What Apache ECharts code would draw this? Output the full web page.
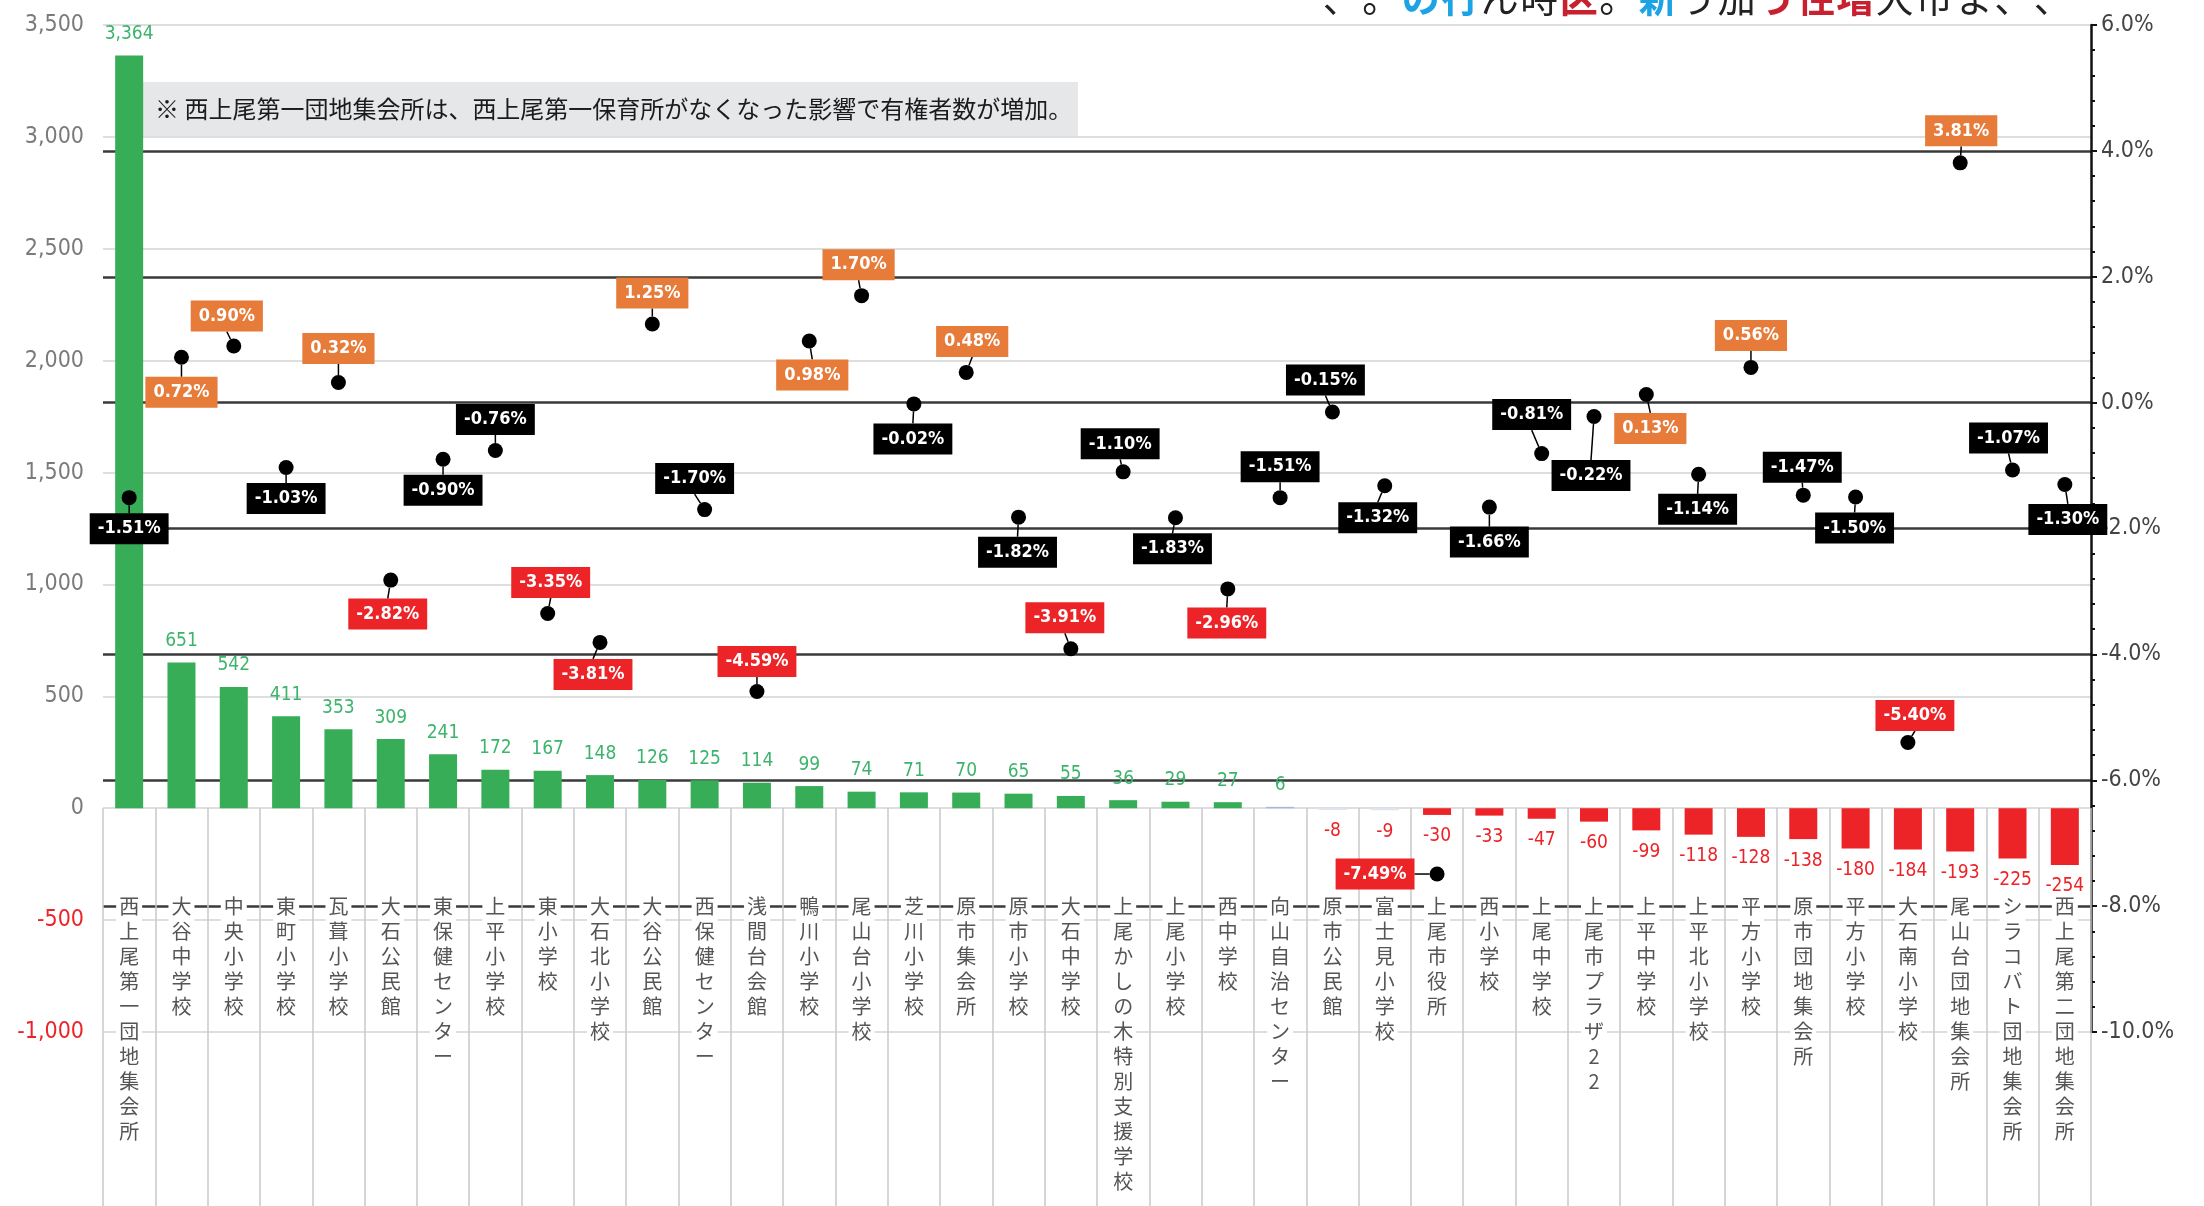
<!DOCTYPE html>
<html><head><meta charset="utf-8">
<script src="https://cdn.jsdelivr.net/npm/echarts@6/dist/echarts.min.js"></script>
<style>html,body{margin:0;padding:0;background:#fff}#c{width:2204px;height:1206px}</style>
</head><body><div id="c"></div>
<script>
// ---- data ----
const categories = ['西上尾第一団地集会所','大谷中学校','中央小学校','東町小学校','瓦葺小学校','大石公民館','東保健センター','上平小学校','東小学校','大石北小学校','大谷公民館','西保健センター','浅間台会館','鴨川小学校','尾山台小学校','芝川小学校','原市集会所','原市小学校','大石中学校','上尾かしの木特別支援学校','上尾小学校','西中学校','向山自治センター','原市公民館','富士見小学校','上尾市役所','西小学校','上尾中学校','上尾市プラザ22','上平中学校','上平北小学校','平方小学校','原市団地集会所','平方小学校','大石南小学校','尾山台団地集会所','シラコバト団地集会所','西上尾第二団地集会所'];
const voterChange = [3364,651,542,411,353,309,241,172,167,148,126,125,114,99,74,71,70,65,55,36,29,27,6,-8,-9,-30,-33,-47,-60,-99,-118,-128,-138,-180,-184,-193,-225,-254];
const changeRate = [-1.51,0.72,0.90,-1.03,0.32,-2.82,-0.90,-0.76,-3.35,-3.81,1.25,-1.70,-4.59,0.98,1.70,-0.02,0.48,-1.82,-3.91,-1.10,-1.83,-2.96,-1.51,-0.15,-1.32,-7.49,-1.66,-0.81,-0.22,0.13,-1.14,0.56,-1.47,-1.50,-5.40,3.81,-1.07,-1.30];
const leftAxisTicks = [-1000, 3500, 500];   // min, max, step
const rightAxisTicks = [-10, 6, 2];         // min, max, step (%)
const noteText = '※ 西上尾第一団地集会所は、西上尾第一保育所がなくなった影響で有権者数が増加。';
const headerParts = [['、。','k'],['の行','b'],['ん時','k'],['区','r'],['。','k'],['新','b'],['う加','k'],['う住増','r'],['大市ま、、','k']];

// ---- layout (label offsets of the rate badges, px) ----
const rateLabelOffset = [[0,31],[0,35],[-7,-30],[0,31],[0,-34],[-3,34],[0,31],[0,-31],[3,-31],[-7,32],[0,-31],[-10,-31],[0,-30],[3,34],[-3,-31],[-1,35],[6,-31],[-1,35],[-6,-31],[-3,-28],[-3,31],[-1,34],[0,-31],[-7,-32],[-7,32],[-62,0],[0,35],[-10,-39],[-3,59],[4,34],[-1,35],[0,-32],[-1,-28],[-1,31],[7,-27],[1,-32],[-4,-32],[3,35]];

const NARROW = "'Liberation Sans Narrow','DejaVu Sans Condensed','Roboto Condensed',sans-serif";
const CJK = "'Noto Sans CJK JP','Noto Sans',sans-serif";
const GREEN = '#38ad58', RED = '#ec2327', ORANGE = '#e67b3a';

function fmtThousands(v){ const s = Math.abs(v).toString().replace(/\B(?=(\d{3})+(?!\d))/g, ','); return (v < 0 ? '-' : '') + s; }

const barData = voterChange.map(v => ({
  value: v,
  itemStyle: { color: v >= 10 ? GREEN : v <= -10 ? RED : (v > 0 ? '#a3b6dc' : '#dfe5f0') },
  label: { position: v >= 0 ? 'top' : 'bottom', color: v >= 0 ? '#3cb46c' : RED }
}));

const rateData = changeRate.map(v => ({
  value: v,
  label: { backgroundColor: v > 0 ? ORANGE : (v <= -2 ? RED : '#000') }
}));

// header: one token per character so that every glyph gets the same pitch
const headerTokens = [];
headerParts.forEach(p => { for (const ch of p[0]) headerTokens.push('{' + p[1] + '|' + ch + '}'); });

const chart = echarts.init(document.getElementById('c'), null, {renderer: 'canvas'});
chart.setOption({
  animation: false,
  backgroundColor: '#fff',
  grid: [
    { left: 103, right: 113, top: 25, bottom: 174 },
    { left: 103, right: 113, top: 808, bottom: 0 }
  ],
  xAxis: [
    { type: 'category', gridIndex: 0, data: categories, axisLabel: {show: false}, axisTick: {show: false}, axisLine: {show: false}, splitLine: {show: false} },
    { type: 'category', gridIndex: 1, data: categories, position: 'top', z: 5,
      axisLine: {show: false}, axisTick: {show: false},
      splitLine: { show: true, lineStyle: { color: '#c9c9c9', width: 1.5 } },
      axisLabel: { inside: true, interval: 0, margin: 86, fontFamily: CJK, fontSize: 20, lineHeight: 25, color: '#555',
        backgroundColor: '#fff', padding: [0, 3, 0, 3],
        formatter: v => v.split('').join('\n') } }
  ],
  yAxis: [
    { type: 'value', gridIndex: 0, position: 'left', min: leftAxisTicks[0], max: leftAxisTicks[1], interval: leftAxisTicks[2],
      axisLine: {show: false}, axisTick: {show: false},
      splitLine: { lineStyle: { color: '#dedede', width: 2 } },
      axisLabel: { margin: 19, fontFamily: NARROW, fontSize: 23, formatter: fmtThousands,
        color: v => (Number(v) < 0 ? RED : '#7a7a7a') } },
    { type: 'value', gridIndex: 0, position: 'right', min: rightAxisTicks[0], max: rightAxisTicks[1], interval: rightAxisTicks[2],
      axisLine: { show: true, lineStyle: { color: '#111', width: 2.5 } },
      axisTick: { show: true, length: 6, lineStyle: { color: '#111', width: 2 } },
      minorTick: { show: true, splitNumber: 5, length: 4, lineStyle: { color: '#111', width: 2 } },
      splitLine: { show: true, showMinLine: false, showMaxLine: false, lineStyle: { color: '#3a3a3a', width: 2.5 } },
      axisLabel: { margin: 10, fontFamily: NARROW, fontSize: 23, color: '#444', formatter: v => Number(v).toFixed(1) + '%' } },
    { type: 'value', gridIndex: 1, show: false }
  ],
  series: [
    { type: 'bar', xAxisIndex: 0, yAxisIndex: 0, barWidth: 28, data: barData, z: 2,
      label: { show: true, distance: 12, fontFamily: NARROW, fontSize: 19, formatter: p => fmtThousands(p.value) } },
    { type: 'scatter', xAxisIndex: 0, yAxisIndex: 1, data: rateData, symbol: 'circle', symbolSize: 15, z: 6,
      itemStyle: { color: '#000', opacity: 1 },
      label: { show: true, position: 'inside', color: '#fff', fontFamily: NARROW, fontWeight: 'bold', fontSize: 18,
        padding: [7, 8, 6, 8], formatter: p => p.value.toFixed(2) + '%' },
      labelLine: { show: true, lineStyle: { color: '#000', width: 1.5, opacity: 1 } },
      labelLayout: function (p) {
        const o = rateLabelOffset[p.dataIndex];
        return { x: p.rect.x + p.rect.width / 2 + o[0], y: p.rect.y + p.rect.height / 2 + o[1], align: 'center', verticalAlign: 'middle' };
      } }
  ],
  graphic: [
    { type: 'group', left: 131, top: 82, z: 10, children: [
      { type: 'rect', shape: { x: 0, y: 0, width: 947, height: 54 }, style: { fill: '#e6e7e9' } },
      { type: 'text', style: { x: 24, y: 27, text: noteText, verticalAlign: 'middle', fill: '#1b1b1b', font: '24px ' + CJK } }
    ]},
    { type: 'text', z: 10, x: 1322, y: 17, style: {
      text: headerTokens.join(''),
      verticalAlign: 'bottom', font: '38px ' + CJK,
      rich: {
        k: { fill: '#222', fontSize: 38, fontFamily: CJK, width: 39.5, align: 'center' },
        b: { fill: '#1ba3e3', fontSize: 38, fontFamily: CJK, fontWeight: 'bold', width: 39.5, align: 'center' },
        r: { fill: '#c9202f', fontSize: 38, fontFamily: CJK, fontWeight: 'bold', width: 39.5, align: 'center' }
      } } }
  ]
});
</script></body></html>
